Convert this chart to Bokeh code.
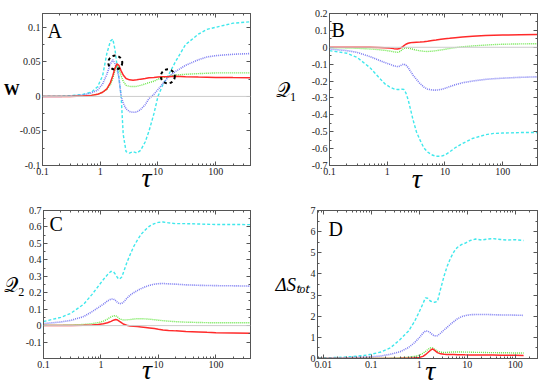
from bokeh.plotting import figure
from bokeh.models import (FixedTicker, LogAxis, LinearAxis, Label, Span,
                          CustomJSTickFormatter, Range1d)
from bokeh.layouts import column, row
from bokeh.embed import file_html
from bokeh.resources import INLINE

# ---------------- data ----------------
tau = [0.1, 0.2, 0.3, 0.5, 0.7, 0.9, 1.1, 1.3, 1.5, 1.65, 1.8, 1.95, 2.1, 2.3, 2.5,
       2.8, 3.2, 3.7, 4.3, 5, 6, 7, 8.5, 10, 12, 15, 20, 30, 50, 70, 100, 200, 400]

# Panel A : W
A_red = [0, 0, 0, 0.0005, 0.0015, 0.003, 0.006, 0.011, 0.02, 0.03, 0.041, 0.047, 0.045,
         0.037, 0.031, 0.026, 0.024, 0.0235, 0.024, 0.025, 0.026, 0.027, 0.0275, 0.028,
         0.0285, 0.0285, 0.029, 0.0285, 0.028, 0.0278, 0.0275, 0.0272, 0.027]
A_green = [0, 0, 0, 0.0005, 0.0015, 0.003, 0.006, 0.01, 0.017, 0.026, 0.038, 0.045, 0.04,
           0.03, 0.022, 0.016, 0.0145, 0.0143, 0.0145, 0.016, 0.018, 0.02, 0.022, 0.025,
           0.027, 0.029, 0.031, 0.032, 0.033, 0.0335, 0.034, 0.034, 0.034]
A_blue = [0, 0, 0.0005, 0.002, 0.005, 0.009, 0.018, 0.032, 0.047, 0.053, 0.047, 0.04,
          0.028, 0.0, -0.01, -0.018, -0.022, -0.023, -0.0225, -0.019, -0.012, -0.003,
          0.003, 0.01, 0.018, 0.028, 0.036, 0.045, 0.053, 0.057, 0.059, 0.061, 0.062]
A_cyan = [0, 0.0005, 0.001, 0.003, 0.006, 0.014, 0.03, 0.062, 0.08, 0.083, 0.068, 0.045,
          0.028, 0.0, -0.055, -0.08, -0.082, -0.08, -0.082, -0.078, -0.066, -0.05,
          -0.025, 0.0, 0.016, 0.03, 0.05, 0.075, 0.09, 0.097, 0.1, 0.106, 0.108]
A_mark_x = [1.82, 14.8]
A_mark_y = [0.049, 0.029]

# Panel B : Q1
B_red = [0, 0, 0, 0, -0.001, -0.003, -0.005, -0.008, -0.01, -0.007, 0.0, 0.01, 0.018,
         0.024, 0.027, 0.029, 0.03, 0.031, 0.033, 0.036, 0.04, 0.043, 0.047, 0.05, 0.053,
         0.057, 0.061, 0.066, 0.07, 0.071, 0.072, 0.074, 0.075]
B_green = [-0.002, -0.004, -0.006, -0.01, -0.014, -0.018, -0.022, -0.027, -0.03, -0.025,
           -0.015, -0.007, -0.004, -0.005, -0.008, -0.012, -0.017, -0.021, -0.024, -0.025,
           -0.023, -0.02, -0.016, -0.012, -0.007, -0.002, 0.003, 0.008, 0.013, 0.016,
           0.018, 0.02, 0.021]
B_blue = [-0.01, -0.02, -0.03, -0.055, -0.075, -0.09, -0.1, -0.11, -0.114, -0.112, -0.103,
          -0.1, -0.105, -0.12, -0.14, -0.165, -0.19, -0.215, -0.235, -0.248, -0.253,
          -0.254, -0.25, -0.243, -0.233, -0.222, -0.21, -0.2, -0.19, -0.186, -0.183,
          -0.178, -0.175]
B_cyan = [-0.02, -0.035, -0.06, -0.12, -0.175, -0.215, -0.235, -0.246, -0.25, -0.25,
          -0.248, -0.25, -0.27, -0.31, -0.36, -0.43, -0.5, -0.55, -0.595, -0.62, -0.638,
          -0.645, -0.645, -0.638, -0.62, -0.595, -0.57, -0.54, -0.518, -0.51, -0.508,
          -0.505, -0.505]

# Panel C : Q2
C_red = [0, 0, 0.001, 0.002, 0.004, 0.007, 0.011, 0.017, 0.026, 0.033, 0.037, 0.034,
         0.026, 0.016, 0.008, 0.002, -0.002, -0.004, -0.006, -0.008, -0.011, -0.014,
         -0.018, -0.022, -0.026, -0.029, -0.032, -0.036, -0.039, -0.041, -0.043, -0.045,
         -0.047]
C_green = [0.002, 0.003, 0.004, 0.007, 0.012, 0.018, 0.027, 0.04, 0.053, 0.06, 0.06,
           0.052, 0.042, 0.036, 0.034, 0.035, 0.037, 0.04, 0.042, 0.042, 0.041, 0.039,
           0.036, 0.033, 0.03, 0.027, 0.024, 0.021, 0.019, 0.018, 0.017, 0.017, 0.017]
C_blue = [0.012, 0.022, 0.032, 0.055, 0.085, 0.11, 0.13, 0.15, 0.162, 0.162, 0.152, 0.14,
          0.133, 0.135, 0.145, 0.165, 0.185, 0.2, 0.213, 0.225, 0.237, 0.245, 0.252,
          0.255, 0.256, 0.254, 0.252, 0.248, 0.245, 0.244, 0.243, 0.242, 0.24]
C_cyan = [0.025, 0.05, 0.075, 0.13, 0.19, 0.24, 0.28, 0.31, 0.33, 0.328, 0.31, 0.29,
          0.282, 0.295, 0.33, 0.38, 0.43, 0.48, 0.52, 0.555, 0.585, 0.605, 0.62, 0.628,
          0.63, 0.625, 0.62, 0.62, 0.618, 0.616, 0.615, 0.615, 0.614]

# Panel D : Delta S_tot
tau_D = [0.008, 0.02, 0.04, 0.07, 0.1, 0.16, 0.25, 0.4, 0.6, 0.8, 1.0, 1.2, 1.35, 1.5,
         1.7, 1.9, 2.1, 2.4, 2.8, 3.3, 3.8, 4.5, 5.3, 6.2, 7.5, 9, 11.5, 15, 20, 27, 35,
         50, 70, 100, 150]
D_red = [0, 0, 0, 0, 0.002, 0.003, 0.005, 0.008, 0.015, 0.03, 0.05, 0.1, 0.18, 0.27,
         0.38, 0.45, 0.38, 0.28, 0.22, 0.2, 0.19, 0.19, 0.185, 0.18, 0.18, 0.175, 0.17,
         0.17, 0.165, 0.16, 0.16, 0.155, 0.15, 0.15, 0.145]
D_green = [0, 0, 0.005, 0.008, 0.01, 0.015, 0.02, 0.035, 0.06, 0.1, 0.15, 0.25, 0.33,
           0.42, 0.5, 0.5, 0.43, 0.35, 0.3, 0.28, 0.29, 0.3, 0.31, 0.31, 0.31, 0.3, 0.3,
           0.29, 0.29, 0.28, 0.28, 0.27, 0.27, 0.26, 0.26]
D_blue = [0.01, 0.02, 0.04, 0.06, 0.08, 0.12, 0.2, 0.32, 0.52, 0.75, 0.98, 1.2, 1.3, 1.3,
          1.22, 1.12, 1.07, 1.08, 1.2, 1.35, 1.47, 1.62, 1.75, 1.87, 1.97, 2.03, 2.07,
          2.08, 2.08, 2.08, 2.07, 2.06, 2.06, 2.05, 2.04]
D_cyan = [0.03, 0.05, 0.09, 0.14, 0.2, 0.31, 0.5, 0.9, 1.3, 1.75, 2.2, 2.6, 2.87, 2.85,
          2.72, 2.67, 2.66, 2.7, 3.3, 3.9, 4.34, 4.75, 5.05, 5.25, 5.38, 5.45, 5.58, 5.65,
          5.6, 5.65, 5.67, 5.63, 5.6, 5.62, 5.58]

x_major = [0.01, 0.1, 1, 10, 100]
x_minor = [m * d for d in [0.001, 0.01, 0.1, 1, 10, 100] for m in range(2, 10)]

A_yticks = [-0.1, -0.05, 0, 0.05, 0.1]
B_yticks = [0.2, 0.1, 0, -0.1, -0.2, -0.3, -0.4, -0.5, -0.6, -0.7]
C_yticks = [-0.1, 0, 0.1, 0.2, 0.3, 0.4, 0.5, 0.6, 0.7]
D_yticks = [0, 1, 2, 3, 4, 5, 6, 7]

# ---------------- styling ----------------
SERIF = "Liberation Serif"
RED, GREEN, BLUE, CYAN = "#ff2a2a", "#66e644", "#7c7cf2", "#40e8ec"
AXC = "#555555"

xfmt = CustomJSTickFormatter(code="return tick >= 1 ? tick.toFixed(0) : String(Number(tick.toPrecision(2)));")
yfmt = CustomJSTickFormatter(code="return String(Number(tick.toFixed(3)));")
blank = CustomJSTickFormatter(code="return '';")


def midpoints(t):
    s = sorted(t)
    return [(a + b) / 2 for a, b in zip(s[:-1], s[1:])]


def style_axis(ax, labels=True):
    ax.major_tick_in = 4
    ax.major_tick_out = 0
    ax.minor_tick_in = 2
    ax.minor_tick_out = 0
    ax.axis_line_color = AXC
    ax.major_tick_line_color = AXC
    ax.minor_tick_line_color = AXC
    if labels:
        ax.major_label_text_font = SERIF
        ax.major_label_text_font_size = "10px"
        ax.major_label_text_color = "#222222"
        ax.major_label_standoff = 2
    else:
        ax.major_label_text_font_size = "0px"
        ax.major_label_standoff = 0


def make_panel(w, h, bl, br, bt, bb, xr, yr, yticks, ylab, ylab_size, ylab_style,
               ylab_standoff, xlab, xlab_standoff, zero=True):
    p = figure(width=w, height=h, x_axis_type="log",
               x_range=Range1d(*xr), y_range=Range1d(*yr),
               output_backend="svg", toolbar_location=None,
               min_border_left=bl, min_border_right=br,
               min_border_top=bt, min_border_bottom=bb)
    p.grid.visible = False
    p.outline_line_color = AXC
    xt = FixedTicker(ticks=x_major, minor_ticks=x_minor)
    yt = FixedTicker(ticks=yticks, minor_ticks=midpoints(yticks))
    xa, ya = p.xaxis[0], p.yaxis[0]
    xa.ticker = xt
    xa.formatter = xfmt
    ya.ticker = yt
    ya.formatter = yfmt
    style_axis(xa)
    style_axis(ya)
    xa.axis_label = xlab
    xa.axis_label_text_font = SERIF
    xa.axis_label_text_font_size = "28px"
    xa.axis_label_text_font_style = "italic"
    xa.axis_label_text_color = "black"
    xa.axis_label_standoff = xlab_standoff
    ya.axis_label = ylab
    ya.axis_label_orientation = "horizontal"
    ya.axis_label_text_font = SERIF
    ya.axis_label_text_font_size = ylab_size
    ya.axis_label_text_font_style = ylab_style
    ya.axis_label_text_color = "black"
    ya.axis_label_standoff = ylab_standoff
    top = LogAxis(ticker=xt, formatter=blank)
    style_axis(top, labels=False)
    p.add_layout(top, "above")
    right = LinearAxis(ticker=yt, formatter=blank)
    style_axis(right, labels=False)
    p.add_layout(right, "right")
    if zero:
        p.add_layout(Span(location=0, dimension="width", line_color="#cccccc", line_width=1))
    return p


def series(p, x, red, green, blue, cyan):
    p.line(x, cyan, line_color=CYAN, line_width=1.4, line_dash="3 2")
    p.line(x, blue, line_color=BLUE, line_width=1.6, line_dash="1 1")
    p.line(x, green, line_color=GREEN, line_width=1.4, line_dash="1 1")
    p.line(x, red, line_color=RED, line_width=1.5)


def letter(p, x, y, s):
    p.add_layout(Label(x=x, y=y, x_units="screen", y_units="screen", text=s,
                       text_font=SERIF, text_font_size="20px",
                       text_baseline="alphabetic", text_color="black"))


# ---------------- panel A ----------------
pA = make_panel(272, 196, 38, 22, 13, 29, (0.1, 400), (-0.1, 0.12), A_yticks,
                "W", "16px", "bold", -3, "τ", -16)
series(pA, tau, A_red, A_green, A_blue, A_cyan)
pA.scatter(A_mark_x, A_mark_y, marker="circle", size=14, fill_alpha=0,
           line_color="black", line_width=2, line_dash="3 3")
letter(pA, 5, 135, "A")

# ---------------- panel B ----------------
pB = make_panel(273, 196, 52, 8, 13, 30, (0.1, 400), (-0.7, 0.2), B_yticks,
                "𝒬₁", "20px", "normal", 12, "τ\u2003\u2009", -15)
series(pB, tau, B_red, B_green, B_blue, B_cyan)
letter(pB, 2, 136, "B")

# ---------------- panel C ----------------
pC = make_panel(272, 194, 39, 22, 14, 28, (0.1, 400), (-0.2, 0.7), C_yticks,
                "𝒬₂", "20px", "normal", -2, "τ", -17)
series(pC, tau, C_red, C_green, C_blue, C_cyan)
letter(pC, 6, 135, "C")

# ---------------- panel D ----------------
pD = make_panel(273, 194, 45, 8, 12, 32, (0.0076, 292), (0, 7), D_yticks,
                "ΔSₜₒₜ", "19px", "italic", -2, "\u2009τ", -16, zero=False)
series(pD, tau_D, D_red, D_green, D_blue, D_cyan)
letter(pD, 11, 130, "D")

layout = column(row(pA, pB), row(pC, pD))
open("out.html", "w").write(file_html(layout, INLINE))
